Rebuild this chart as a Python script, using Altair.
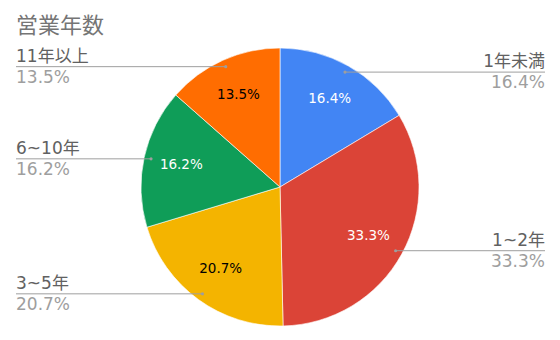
import altair as alt
import numpy as np
import pandas as pd

title_text = "営業年数"
categories = ["1年未満", "1~2年", "3~5年", "6~10年", "11年以上"]
values = [16.4, 33.3, 20.7, 16.2, 13.5]
colors = ["#4285F4", "#DB4437", "#F4B400", "#0F9D58", "#FF6D01"]
inner_text_colors = ["#ffffff", "#ffffff", "#000000", "#ffffff", "#000000"]

W, H = 560, 340
CX, CY, R = 280, 187, 139
FONT = "DejaVu Sans, Noto Sans CJK JP"

v = np.array(values)
tot = v.sum()
cum = np.cumsum(v)
mid = (cum - v / 2) / tot * 2 * np.pi
s, c = np.sin(mid), np.cos(mid)

df = pd.DataFrame({
    "cat": categories,
    "val": values,
    "idx": list(range(len(values))),
    "pct": [f"{x:.1f}%" for x in values],
    "tc": inner_text_colors,
})
df["ix"] = CX + 101 * s
df["iy"] = CY - 101 * c
df["px"] = CX + 132 * s
df["py"] = CY - 132 * c
df["side"] = np.where(s > 0, "right", "left")
df["ex"] = np.where(s > 0, 545, 16)

xs = alt.Scale(domain=[0, W])
ys = alt.Scale(domain=[H, 0])

base = alt.Chart(df)

pie = base.mark_arc(outerRadius=R, stroke="white", strokeWidth=0.6).encode(
    theta=alt.Theta("val:Q", stack=True),
    order=alt.Order("idx:Q", sort="ascending"),
    color=alt.Color("cat:N", scale=alt.Scale(domain=categories, range=colors), legend=None),
    x=alt.value(CX),
    y=alt.value(CY),
)

inner = base.mark_text(fontSize=13.5, font=FONT, align="center", baseline="middle").encode(
    x=alt.X("ix:Q", scale=xs, axis=None),
    y=alt.Y("iy:Q", scale=ys, axis=None),
    text="pct:N",
    color=alt.Color("tc:N", scale=None),
)

lines = base.mark_rule(color="#9e9e9e", strokeWidth=1).encode(
    x=alt.X("px:Q", scale=xs, axis=None),
    x2="ex:Q",
    y=alt.Y("py:Q", scale=ys, axis=None),
)

dots = base.mark_circle(color="#9e9e9e", size=10, opacity=1).encode(
    x=alt.X("px:Q", scale=xs, axis=None),
    y=alt.Y("py:Q", scale=ys, axis=None),
)

layers = [pie, inner, lines, dots]
for side, align in [("right", "right"), ("left", "left")]:
    sub = base.transform_filter(alt.datum.side == side)
    layers.append(sub.mark_text(fontSize=17, font=FONT, align=align, baseline="alphabetic", dy=-5, color="#616161").encode(
        x=alt.X("ex:Q", scale=xs, axis=None),
        y=alt.Y("py:Q", scale=ys, axis=None),
        text="cat:N",
    ))
    layers.append(sub.mark_text(fontSize=17, font=FONT, align=align, baseline="alphabetic", dy=16, color="#9e9e9e").encode(
        x=alt.X("ex:Q", scale=xs, axis=None),
        y=alt.Y("py:Q", scale=ys, axis=None),
        text="pct:N",
    ))

title_df = pd.DataFrame({"t": [title_text]})
title = alt.Chart(title_df).mark_text(fontSize=22, font=FONT, align="left", baseline="alphabetic", color="#757575").encode(
    x=alt.value(16), y=alt.value(33), text="t:N"
)
layers.append(title)

chart = alt.layer(*layers).properties(
    width=W, height=H, padding=0, autosize=alt.AutoSizeParams(type="none")
).configure_view(stroke=None)

chart.save("out.html", embed_options={"renderer": "svg", "actions": False})
